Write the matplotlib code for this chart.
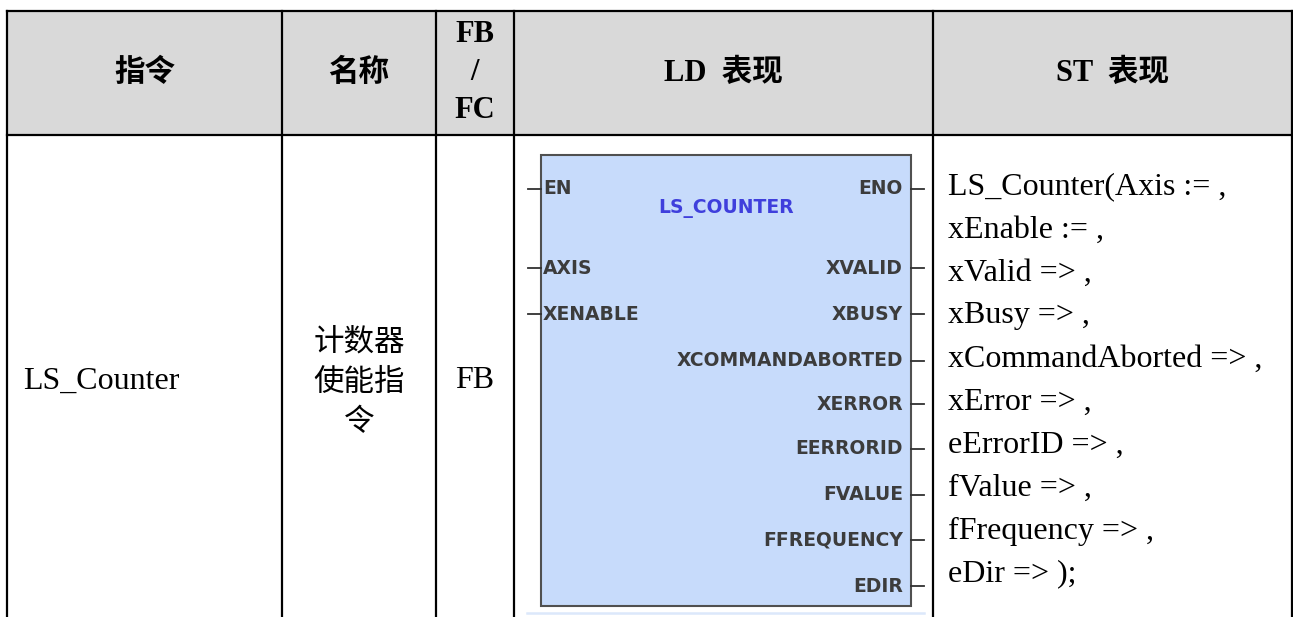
import matplotlib
matplotlib.use("Agg")
import matplotlib.pyplot as plt
from matplotlib.patches import Rectangle

# table content
headers = ["指令", "名称", "FB\n/\nFC", "LD  表现", "ST  表现"]
instr = "LS_Counter"
name_lines = ["计数器", "使能指", "令"]
kind = "FB"
fb_title = "LS_COUNTER"
in_pins = ["EN", "AXIS", "XENABLE"]
out_pins = ["ENO", "XVALID", "XBUSY", "XCOMMANDABORTED", "XERROR",
            "EERRORID", "FVALUE", "FFREQUENCY", "EDIR"]
st_lines = ["LS_Counter(Axis := ,", "xEnable := ,", "xValid => ,", "xBusy => ,",
            "xCommandAborted => ,", "xError => ,", "eErrorID => ,", "fValue => ,",
            "fFrequency => ,", "eDir => );"]

# layout in pixels
W, H = 1293, 617
col_x = [7, 282, 436, 514, 933, 1292]
top, head_bot = 11, 135
in_y = [189, 268, 314]
out_y = [189, 268, 314, 361, 404, 449, 495, 540, 586]

serif = ["Liberation Serif", "Noto Sans CJK SC"]
cjk = ["Noto Sans CJK SC", "Liberation Serif"]

fig = plt.figure(figsize=(W / 100, H / 100), dpi=100)
ax = fig.add_axes([0, 0, 1, 1])
ax.set_xlim(0, W)
ax.set_ylim(H, 0)
ax.axis("off")

# header background
ax.add_patch(Rectangle((col_x[0], top), col_x[-1] - col_x[0], head_bot - top,
                       facecolor="#d9d9d9", edgecolor="none", zorder=0))

# grid lines
lw = 1.6
ax.plot([col_x[0], col_x[-1]], [top, top], color="black", lw=lw)
ax.plot([col_x[0], col_x[-1]], [head_bot, head_bot], color="black", lw=lw)
for x in col_x:
    ax.plot([x, x], [top, H], color="black", lw=lw)

# header text
centers = [(col_x[i] + col_x[i + 1]) / 2 for i in range(len(col_x) - 1)]
for i, h in enumerate(headers):
    if "\n" in h:
        for j, part in enumerate(h.split("\n")):
            ax.text(centers[i], 35 + j * 37.5, part, ha="center", va="center",
                    fontsize=22, fontweight="bold", family=serif)
    else:
        ax.text(centers[i], 73, h, ha="center", va="center",
                fontsize=22, fontweight="bold", family=serif)

# body row
ax.text(23, 381, instr, ha="left", va="center", fontsize=23, family=serif)
for j, s in enumerate(name_lines):
    ax.text(centers[1], 342 + j * 40, s, ha="center", va="center",
            fontsize=22, family=cjk)
ax.text(centers[2], 381, kind, ha="center", va="center", fontsize=23, family=serif)

# function block picture
bx0, bx1, by0, by1 = 541, 911, 155, 606
ax.add_patch(Rectangle((bx0, by0), bx1 - bx0, by1 - by0, facecolor="#c7dbfb",
                       edgecolor="#505050", lw=1.5, zorder=2))
ax.plot([527, 924], [613, 613], color="#dce8fb", lw=1.8)
ax.text((bx0 + bx1) / 2, 209, fb_title, ha="center", va="center", fontsize=13.5,
        fontweight="bold", color="#3f3fdc", family="DejaVu Sans", zorder=3)
for name, y in zip(in_pins, in_y):
    ax.plot([528, bx0], [y, y], color="#303030", lw=1.3, zorder=3)
    ax.text(bx0 + 2, y, name, ha="left", va="center", fontsize=13.5,
            fontweight="bold", color="#3c3c3c", family="DejaVu Sans", zorder=3)
for name, y in zip(out_pins, out_y):
    ax.plot([bx1, 924], [y, y], color="#303030", lw=1.3, zorder=3)
    ax.text(bx1 - 8, y, name, ha="right", va="center", fontsize=13.5,
            fontweight="bold", color="#3c3c3c", family="DejaVu Sans", zorder=3)

# ST column
for i, s in enumerate(st_lines):
    ax.text(948, 187 + i * 43, s, ha="left", va="center", fontsize=23, family=serif)

fig.savefig("out.png", dpi=100)
